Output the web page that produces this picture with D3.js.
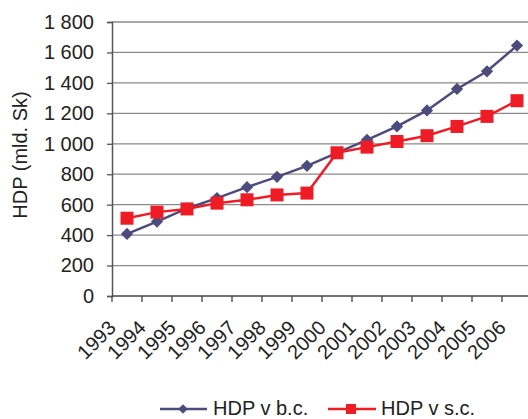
<!DOCTYPE html>
<html><head><meta charset="utf-8">
<script src="https://cdn.jsdelivr.net/npm/d3@7"></script>
<style>body{margin:0;background:#fff}svg{display:block;font-family:"Liberation Sans",Arial,sans-serif}</style>
</head><body><svg id="c" width="528" height="419"></svg>
<script>
const years = ["1993","1994","1995","1996","1997","1998","1999","2000","2001","2002","2003","2004","2005","2006"];
const hdpBC = [408,489,575,643,715,783,855,940,1026,1114,1219,1360,1476,1645];
const hdpSC = [511,551,572,610,632,664,676,941,978,1015,1053,1114,1180,1283];
const yTicks = [0,200,400,600,800,1000,1200,1400,1600,1800];
const seriesNames = ["HDP v b.c.","HDP v s.c."];
const colors = ["#4c4b7e","#ee1c25"];
const FS = 20;

const svg = d3.select("#c");
const x = d3.scaleBand().domain(years).range([112,532]);
const y = d3.scaleLinear().domain([0,1800]).range([296,22]);
const fmt = v => d3.format(",")(v).replace(/,/g," ");

// gridlines
svg.append("g").selectAll("line").data(yTicks.filter(d=>d>0)).join("line")
  .attr("x1",112).attr("x2",528).attr("y1",d=>y(d)).attr("y2",d=>y(d))
  .attr("stroke","#8a8a8a").attr("stroke-width",1.3);

// y axis
const ya = svg.append("g").attr("transform","translate(112,0)")
  .call(d3.axisLeft(y).tickValues(yTicks).tickFormat(fmt).tickSize(5).tickPadding(13));
ya.select(".domain").attr("stroke","#555").attr("stroke-width",1.5);
ya.selectAll(".tick line").attr("stroke","#555").attr("stroke-width",1.3);
ya.selectAll("text").attr("font-size",FS).attr("fill","#222").style("font-family","Liberation Sans, Arial, sans-serif");

// x axis
const xa = svg.append("g").attr("transform","translate(0,296)")
  .call(d3.axisBottom(x).tickSize(0).tickFormat(""));
xa.select(".domain").attr("stroke","#444").attr("stroke-width",1.5).attr("d","M112,0H528");
svg.append("g").selectAll("line").data(years).join("line")
  .attr("x1",d=>x(d)).attr("x2",d=>x(d)).attr("y1",296).attr("y2",302)
  .attr("stroke","#444").attr("stroke-width",1.3);
svg.append("g").selectAll("text").data(years).join("text")
  .attr("transform",d=>`translate(${x(d)+x.bandwidth()/2-10},329) rotate(-45)`)
  .attr("text-anchor","end").attr("font-size",FS).attr("fill","#222").text(d=>d);

// y label
svg.append("text").attr("transform","translate(27,155) rotate(-90)")
  .attr("text-anchor","middle").attr("font-size",FS).attr("fill","#222").text("HDP (mld. Sk)");

const cx = d => x(d)+x.bandwidth()/2;
const line = d3.line().x((d,i)=>cx(years[i])).y(d=>y(d));
[hdpBC,hdpSC].forEach((s,k)=>{
  svg.append("path").datum(s).attr("d",line).attr("fill","none")
    .attr("stroke",colors[k]).attr("stroke-width",2.5);
});
svg.append("g").selectAll("path").data(hdpBC).join("path")
  .attr("d",d3.symbol().type(d3.symbolSquare).size(75)())
  .attr("transform",(d,i)=>`translate(${cx(years[i])},${y(d)}) rotate(45)`)
  .attr("fill",colors[0]);
svg.append("g").selectAll("rect").data(hdpSC).join("rect")
  .attr("x",(d,i)=>cx(years[i])-6.5).attr("y",d=>y(d)-6.5).attr("width",13).attr("height",13)
  .attr("fill",colors[1]);

// legend
const lg = svg.append("g");
lg.append("line").attr("x1",160).attr("x2",207).attr("y1",409).attr("y2",409).attr("stroke",colors[0]).attr("stroke-width",2.5);
lg.append("path").attr("d",d3.symbol().type(d3.symbolSquare).size(45)()).attr("transform","translate(183,409) rotate(45)").attr("fill",colors[0]);
lg.append("text").attr("x",213).attr("y",415).attr("font-size",FS).attr("fill","#222").text(seriesNames[0]);
lg.append("line").attr("x1",328).attr("x2",376).attr("y1",409).attr("y2",409).attr("stroke",colors[1]).attr("stroke-width",2.5);
lg.append("rect").attr("x",346).attr("y",404).attr("width",10).attr("height",10).attr("fill",colors[1]);
lg.append("text").attr("x",381).attr("y",415).attr("font-size",FS).attr("fill","#222").text(seriesNames[1]);
</script></body></html>
